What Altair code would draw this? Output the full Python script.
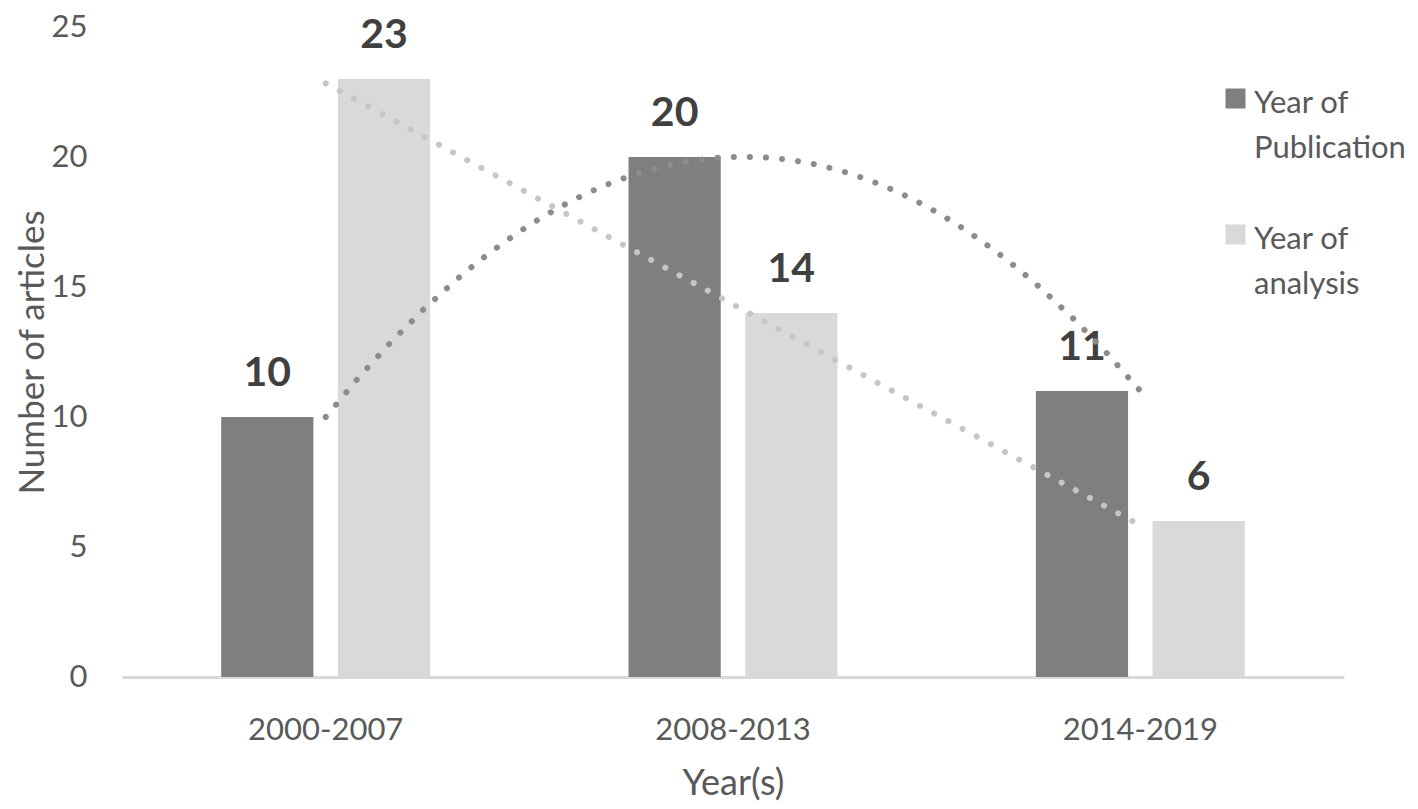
import altair as alt
import pandas as pd

categories = ["2000-2007", "2008-2013", "2014-2019"]
publication = [10, 20, 11]
analysis = [23, 14, 6]
series_names = ["Year of Publication", "Year of analysis"]
bar_colors = ["#7f7f7f", "#d9d9d9"]
trend_colors = ["#8c8c8c", "#c6c6c6"]

rows = []
for i, c in enumerate(categories):
    rows.append({"period": c, "idx": i + 1, "series": series_names[0], "value": publication[i]})
    rows.append({"period": c, "idx": i + 1, "series": series_names[1], "value": analysis[i]})
df = pd.DataFrame(rows)

FONT = "Lato"
TXT = "#595959"
W, H = 1222, 650

x_band = alt.X(
    "period:N", sort=categories,
    scale=alt.Scale(paddingInner=0.487, paddingOuter=0.2435),
    axis=alt.Axis(title="Year(s)", labelAngle=0, ticks=False, domainColor="#d9d9d9",
                  domainWidth=3, labelPadding=38, titlePadding=21, labelFontSize=31,
                  titleFontSize=36, labelColor=TXT, titleColor=TXT, labelFont=FONT,
                  titleFont=FONT, titleFontWeight="normal"),
)
x_off = alt.XOffset("series:N", sort=series_names,
                    scale=alt.Scale(paddingInner=0.21, paddingOuter=0))
y_axis = alt.Axis(values=[0, 5, 10, 15, 20, 25], grid=False, domain=False, ticks=False,
                  title="Number of articles", labelPadding=35, titlePadding=1,
                  labelFontSize=31, titleFontSize=35, labelColor=TXT, titleColor=TXT,
                  labelFont=FONT, titleFont=FONT, titleFontWeight="normal")
y_val = alt.Y("value:Q", scale=alt.Scale(domain=[0, 25]), axis=y_axis, title="Number of articles")

legend = alt.Legend(
    title=None, orient="none", legendX=1098, legendY=46,
    symbolType="M-1,0H1V2H-1Z",
    symbolSize=400, symbolStrokeWidth=0, labelFontSize=31, labelFont=FONT,
    labelColor=TXT, labelBaseline="top", labelOffset=3, rowPadding=45, padding=0,
    labelExpr="datum.label == 'Year of Publication' ? ['Year of', 'Publication'] : ['Year of', 'analysis']",
    labelLimit=300,
)

base = alt.Chart(df)
bars = base.mark_bar().encode(
    x=x_band, xOffset=x_off, y=y_val,
    color=alt.Color("series:N", sort=series_names,
                    scale=alt.Scale(domain=series_names, range=bar_colors), legend=legend),
)
labels = base.mark_text(fontSize=41, fontWeight="bold", color="#404040", font=FONT,
                        baseline="alphabetic", dy=-31).encode(
    x=x_band, xOffset=x_off, y=y_val, text="value:Q")
inner = alt.layer(bars, labels)


def trend(idx, method, order):
    ch = base.transform_filter(alt.datum.series == series_names[idx]).transform_regression(
        "idx", "value", method=method, order=order, extent=[1, 3])
    return ch.mark_line(strokeDash=[0.1, 16], strokeCap="round", strokeWidth=6,
                        color=trend_colors[idx]).encode(
        x=alt.X("idx:Q", scale=alt.Scale(domain=[0.5, 3.5], nice=False, zero=False), axis=None),
        y=alt.Y("value:Q", scale=alt.Scale(domain=[0, 25]), title="Number of articles"),
    )


chart = alt.layer(inner, trend(0, "poly", 2), trend(1, "linear", 1)).resolve_scale(
    x="independent"
).properties(
    width=W, height=H,
    autosize=alt.AutoSizeParams(type="none"),
    padding={"left": 114, "top": 19, "right": 66, "bottom": 124},
    background="white",
).configure(style={"guide-label": {"lineHeight": 45}}).configure_view(stroke=None, strokeWidth=0)

chart.save("out.html", embed_options={"renderer": "svg", "actions": False})
